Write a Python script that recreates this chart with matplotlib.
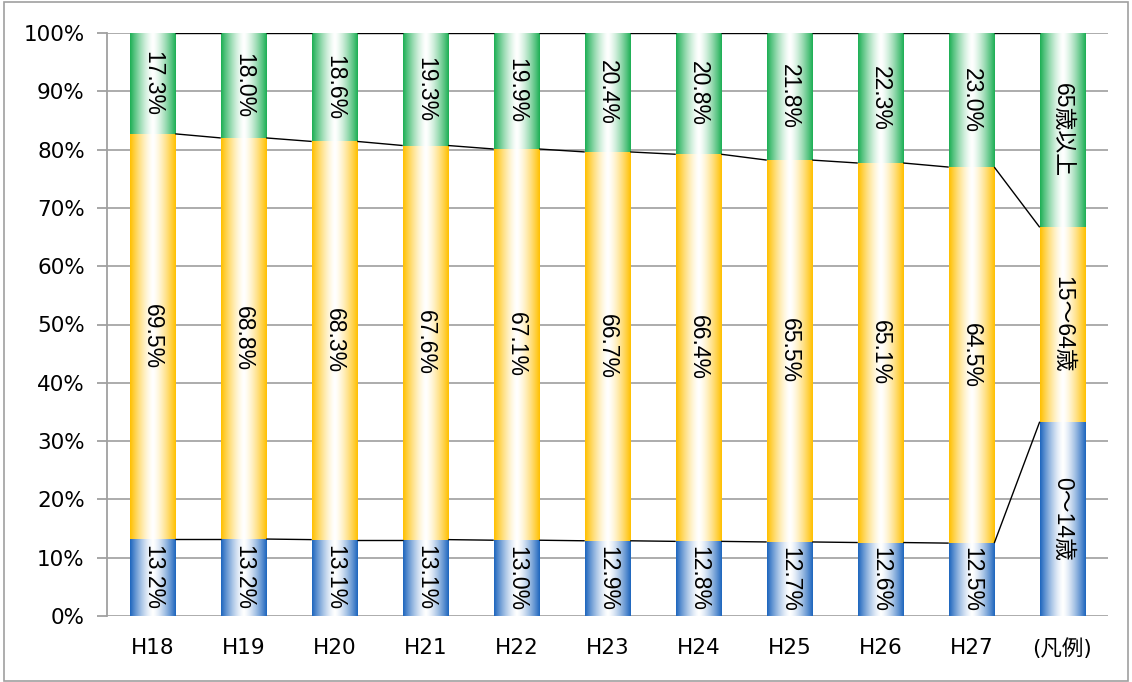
import numpy as np
import matplotlib
matplotlib.use("Agg")
import matplotlib.pyplot as plt
from matplotlib.patches import Rectangle
from matplotlib.colors import to_rgb

categories = ['H18', 'H19', 'H20', 'H21', 'H22', 'H23', 'H24', 'H25', 'H26', 'H27', '(凡例)']
young = [13.2, 13.2, 13.1, 13.1, 13.0, 12.9, 12.8, 12.7, 12.6, 12.5]
working = [69.5, 68.8, 68.3, 67.6, 67.1, 66.7, 66.4, 65.5, 65.1, 64.5]
elderly = [17.3, 18.0, 18.6, 19.3, 19.9, 20.4, 20.8, 21.8, 22.3, 23.0]
legend_labels = ['0～14歳', '15～64歳', '65歳以上']
legend_share = [100 / 3, 100 / 3, 100 / 3]
yticks = [0, 10, 20, 30, 40, 50, 60, 70, 80, 90, 100]

colors = ['#1E66BE', '#FFC000', '#1DAF55']

plt.rcParams['font.family'] = ['DejaVu Sans', 'Noto Sans CJK JP']

fig = plt.figure(figsize=(11.32, 6.82), dpi=100)
W, H = 1132, 682
ax = fig.add_axes([107 / W, (H - 616) / H, (1108 - 107) / W, (616 - 33) / H])

n = len(categories)
x = np.arange(n)
bw = 0.5


def grad_img(c, npx=100):
    t = np.linspace(0, 1, npx)
    v = np.abs(2 * t - 1) ** 1.4
    c = np.array(to_rgb(c))
    img = (1 - v)[:, None] * np.ones(3)[None, :] + v[:, None] * c[None, :]
    return img[None, :, :]


def seg(xc, y0, y1, c):
    ax.imshow(grad_img(c), extent=[xc - bw / 2, xc + bw / 2, y0, y1],
              aspect='auto', interpolation='bilinear', zorder=2)


series = [young, working, elderly]
cums = []
for i in range(n - 1):
    b = 0
    lv = []
    for s, c in zip(series, colors):
        v = s[i]
        seg(x[i], b, b + v, c)
        ax.text(x[i], b + v / 2, f'{v:.1f}%', rotation=-90, ha='center', va='center',
                fontsize=16.5, family=['Liberation Sans', 'DejaVu Sans'], zorder=4)
        b += v
        lv.append(b)
    cums.append(lv)

# legend bar
b = 0
lv = []
for v, c, lab in zip(legend_share, colors, legend_labels):
    seg(x[-1], b, b + v, c)
    ax.text(x[-1], b + v / 2, lab, rotation=-90, ha='center', va='center',
            fontsize=16.5, family=['Liberation Sans', 'Noto Sans CJK JP'], zorder=4)
    b += v
    lv.append(b)
cums.append(lv)

# series lines
for i in range(n - 1):
    for k in range(3):
        ax.plot([x[i] + bw / 2, x[i + 1] - bw / 2], [cums[i][k], cums[i + 1][k]],
                color='black', lw=1.0, zorder=3, solid_capstyle='butt')

ax.set_xlim(-0.5, n - 0.5)
ax.set_ylim(0, 100)
ax.set_yticks(yticks)
ax.set_yticklabels([f'{t}%' for t in yticks], fontsize=15.5)
ax.set_xticks(x)
ax.set_xticklabels(categories, fontsize=15.5, family=['DejaVu Sans', 'Noto Sans CJK JP'])
ax.tick_params(axis='x', length=0, pad=16)
ax.tick_params(axis='y', length=7, width=1.3, color='#A0A0A0', pad=9)
ax.yaxis.grid(True, color='#A6A6A6', lw=1.3, zorder=0)
ax.set_axisbelow(True)
for sp in ['top', 'right', 'bottom']:
    ax.spines[sp].set_visible(False)
ax.spines['left'].set_color('#A0A0A0')
ax.spines['left'].set_linewidth(1.3)

fig.patches.append(Rectangle((4 / W, 1 / H), (W - 8) / W, (H - 3) / H, transform=fig.transFigure,
                             fill=False, edgecolor='#A0A0A0', lw=1.2))

fig.savefig('out.png', dpi=100)
